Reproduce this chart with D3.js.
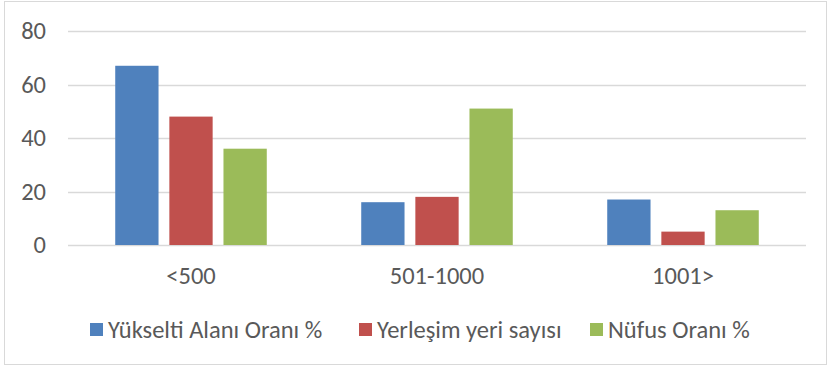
<!DOCTYPE html>
<html>
<head>
<meta charset="utf-8">
<script src="https://cdn.jsdelivr.net/npm/d3@7"></script>
<style>
  html, body { margin: 0; padding: 0; background: #fff; }
  svg { display: block; }
  text { font-family: Carlito, "Liberation Sans Narrow", "Open Sans", sans-serif; fill: #595959; }
</style>
</head>
<body>
<svg id="chart" width="831" height="369"></svg>
<script>
// Elevation bands and their three measures
const categories = ["<500", "501-1000", "1001>"];
const seriesNames = ["Yükselti Alanı Oranı %", "Yerleşim yeri sayısı", "Nüfus Oranı %"];
const seriesColors = ["#4F81BD", "#C0504D", "#9BBB59"];
const yukseltiAlani = [67, 16, 17];
const yerlesimYeri = [48, 18, 5];
const nufusOrani = [36, 51, 13];
const yTicks = [0, 20, 40, 60, 80];

const seriesValues = [yukseltiAlani, yerlesimYeri, nufusOrani];

const svg = d3.select("#chart");
const plot = { left: 68, right: 806, top: 31, bottom: 245 };
const FONT = 24.5;

// outer frame
svg.append("rect")
  .attr("x", 4.5).attr("y", 1.5)
  .attr("width", 822).attr("height", 363)
  .attr("fill", "#fff").attr("stroke", "#D9D9D9").attr("stroke-width", 1);

const x = d3.scaleBand()
  .domain(categories)
  .range([plot.left, plot.right])
  .paddingInner(0.384)
  .paddingOuter(0.192);

const xInner = d3.scaleBand()
  .domain(d3.range(seriesNames.length))
  .range([0, x.bandwidth()])
  .paddingInner(0.2)
  .paddingOuter(0);

const y = d3.scaleLinear().domain([0, 80]).range([plot.bottom, plot.top]);

// gridlines
svg.append("g")
  .selectAll("line")
  .data(yTicks)
  .join("line")
  .attr("x1", plot.left).attr("x2", plot.right)
  .attr("y1", d => Math.round(y(d)) + 0.5)
  .attr("y2", d => Math.round(y(d)) + 0.5)
  .attr("stroke", "#D9D9D9").attr("stroke-width", 1.3);

// y axis labels
const yAxis = d3.axisLeft(y).tickValues(yTicks).tickSize(0).tickPadding(0);
const yg = svg.append("g")
  .attr("transform", `translate(${plot.left - 22},0)`)
  .call(yAxis);
yg.attr("font-size", null).attr("font-family", null);
yg.select(".domain").remove();
yg.selectAll("text")
  .attr("font-size", FONT)
  .attr("fill", "#595959");

// bars
const groups = svg.append("g")
  .selectAll("g")
  .data(categories)
  .join("g")
  .attr("transform", d => `translate(${x(d)},0)`);

groups.selectAll("rect")
  .data((c, ci) => seriesValues.map((vals, si) => ({ si, v: vals[ci] })))
  .join("rect")
  .attr("x", d => xInner(d.si))
  .attr("width", xInner.bandwidth())
  .attr("y", d => y(d.v))
  .attr("height", d => y(0) - y(d.v))
  .attr("fill", d => seriesColors[d.si]);

// x axis category labels
const xAxis = d3.axisBottom(x).tickSize(0).tickPadding(0);
const xg = svg.append("g")
  .attr("transform", `translate(0,${plot.bottom + 22})`)
  .call(xAxis);
xg.attr("font-size", null).attr("font-family", null);
xg.select(".domain").remove();
xg.selectAll("text")
  .attr("font-size", FONT)
  .attr("dy", "0.71em")
  .attr("fill", "#595959");

// legend
const legendX = [90, 359, 590];
const legend = svg.append("g")
  .selectAll("g")
  .data(seriesNames)
  .join("g")
  .attr("transform", (d, i) => `translate(${legendX[i]},323)`);
legend.append("rect")
  .attr("width", 13).attr("height", 13)
  .attr("fill", (d, i) => seriesColors[i]);
legend.append("text")
  .attr("x", 18).attr("y", 14.5)
  .attr("font-size", FONT)
  .text(d => d);
</script>
</body>
</html>
